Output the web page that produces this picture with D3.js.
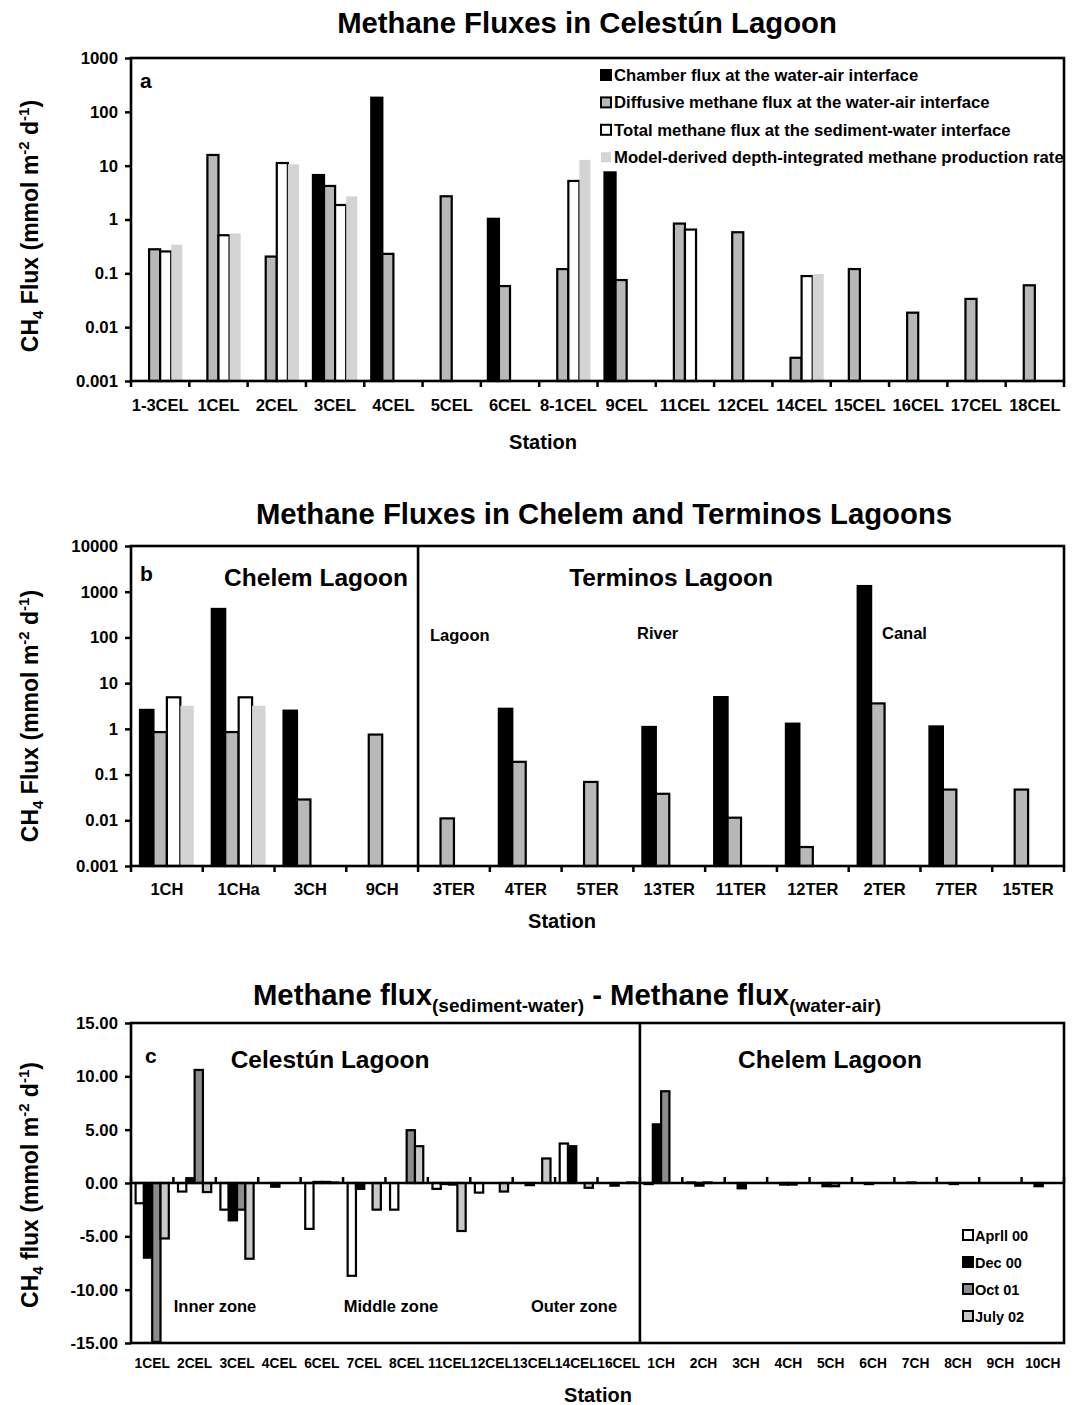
<!DOCTYPE html>
<html><head><meta charset="utf-8">
<script src="https://cdn.jsdelivr.net/npm/d3@7"></script>
<style>
body{margin:0;background:#fff;}
svg{display:block;font-family:"Liberation Sans",Arial,sans-serif;font-weight:bold;}
</style></head><body>
<svg id="chart" width="1079" height="1405"></svg>
<script>
// ---------- Panel a data ----------
const stationsA = ["1-3CEL","1CEL","2CEL","3CEL","4CEL","5CEL","6CEL","8-1CEL","9CEL","11CEL","12CEL","14CEL","15CEL","16CEL","17CEL","18CEL"];
const chamberA   = [null, null, null, 6.7, 183, null, 1.03, null, 7.5, null, null, null, null, null, null, null];
const diffusiveA = [0.28, 15.8, 0.205, 4.2, 0.23, 2.7, 0.058, 0.12, 0.075, 0.84, 0.58, 0.0027, 0.12, 0.0186, 0.0335, 0.06];
const sedimentA  = [0.255, 0.51, 11.2, 1.86, null, null, null, 5.2, null, 0.65, null, 0.089, null, null, null, null];
const modelA     = [0.34, 0.55, 10.6, 2.7, null, null, null, 12.8, null, null, null, 0.097, null, null, null, null];
const logTicksA = [0.001, 0.01, 0.1, 1, 10, 100, 1000];
const logLabelsA = ["0.001","0.01","0.1","1","10","100","1000"];

// ---------- Panel b data ----------
const stationsB = ["1CH","1CHa","3CH","9CH","3TER","4TER","5TER","13TER","11TER","12TER","2TER","7TER","15TER"];
const chamberB   = [2.6, 420, 2.5, null, null, 2.75, null, 1.1, 4.95, 1.3, 1330, 1.13, null];
const diffusiveB = [0.85, 0.85, 0.0285, 0.75, 0.011, 0.19, 0.069, 0.038, 0.0114, 0.0026, 3.6, 0.047, 0.047];
const sedimentB  = [4.9, 4.9, null, null, null, null, null, null, null, null, null, null, null];
const modelB     = [3.2, 3.2, null, null, null, null, null, null, null, null, null, null, null];
const logTicksB = [0.001, 0.01, 0.1, 1, 10, 100, 1000, 10000];
const logLabelsB = ["0.001","0.01","0.1","1","10","100","1000","10000"];

// ---------- Panel c data ----------
const stationsC = ["1CEL","2CEL","3CEL","4CEL","6CEL","7CEL","8CEL","11CEL","12CEL","13CEL","14CEL","16CEL","1CH","2CH","3CH","4CH","5CH","6CH","7CH","8CH","9CH","10CH"];
const april00 = [-1.9, -0.8, -2.5, 0, -4.3, -8.7, -2.5, -0.55, -0.9, 0, 3.7, 0, -0.1, 0.05, 0, 0, 0, 0, 0, 0, 0, 0];
const dec00   = [-7.0, 0.45, -3.5, -0.35, 0.1, -0.55, 0, -0.1, 0, -0.2, 3.45, -0.25, 5.5, -0.25, -0.5, -0.15, -0.3, -0.1, 0.05, -0.1, 0, -0.3];
const oct01   = [-14.9, 10.6, -2.5, 0, 0.1, 0, 4.95, -0.15, 0, 0, 0, 0, 8.6, 0.05, 0, -0.15, -0.3, 0, 0, 0, 0, 0];
const july02  = [-5.2, -0.85, -7.1, 0, 0.05, -2.5, 3.45, -4.5, -0.8, 2.3, -0.45, 0.05, 0, 0, 0, 0, 0, 0, 0, 0, 0, 0];
const linTicksC = [-15, -10, -5, 0, 5, 10, 15];

const legendA = ["Chamber flux at the water-air interface","Diffusive methane flux at the water-air interface","Total methane flux at the sediment-water interface","Model-derived depth-integrated methane production rate"];
const legendC = ["Aprll 00","Dec 00","Oct 01","July 02"];

// ---------- styles ----------
const stylesAB = [
  {fill:"#000", stroke:"#000"},
  {fill:"#b8b8b8", stroke:"#000"},
  {fill:"#fff", stroke:"#000"},
  {fill:"#d4d4d4", stroke:"none"}
];
const stylesC = [
  {fill:"#fff", stroke:"#000"},
  {fill:"#000", stroke:"#000"},
  {fill:"#8c8c8c", stroke:"#000"},
  {fill:"#c8c8c8", stroke:"#000"}
];

const svg = d3.select("#chart");
const X0 = 131, X1 = 1064;

function yTitle(cx, cy, word){
  const t = svg.append("text").attr("transform",`translate(${cx},${cy}) rotate(-90)`)
    .attr("text-anchor","middle").attr("font-size",23);
  t.append("tspan").text("CH");
  t.append("tspan").attr("font-size",15).attr("dy",5).text("4");
  t.append("tspan").attr("dy",-5).text(" " + word + " (mmol m");
  t.append("tspan").attr("font-size",15).attr("dy",-9).text("-2");
  t.append("tspan").attr("dy",9).text(" d");
  t.append("tspan").attr("font-size",15).attr("dy",-9).text("-1");
  t.append("tspan").attr("dy",9).text(")");
}

function drawLogPanel(cfg){
  const g = svg.append("g");
  const x = d3.scaleBand().domain(cfg.stations).range([X0, X1]);
  const y = d3.scaleLog().domain(cfg.domain).range([cfg.bottom, cfg.top]);
  const step = x.step();
  const inner = d3.scaleBand().domain(d3.range(4)).range([cfg.pad, step - cfg.pad]);
  cfg.series.forEach((vals, si) => {
    const st = stylesAB[si];
    g.append("g").selectAll("rect")
      .data(vals.map((v,i)=>({v, s: cfg.stations[i]})).filter(d => d.v != null))
      .join("rect")
      .attr("x", d => x(d.s) + inner(si))
      .attr("y", d => y(d.v))
      .attr("width", inner.bandwidth())
      .attr("height", d => y(cfg.domain[0]) - y(d.v))
      .attr("fill", st.fill)
      .attr("stroke", st.stroke)
      .attr("stroke-width", 2.2);
  });
  g.append("rect").attr("x",X0).attr("y",cfg.top).attr("width",X1-X0).attr("height",cfg.bottom-cfg.top)
    .attr("fill","none").attr("stroke","#000").attr("stroke-width",2.6);
  const ax = g.append("g").attr("transform",`translate(${X0},0)`)
    .call(d3.axisLeft(y).tickValues(cfg.ticks).tickFormat((d,i)=>cfg.labels[i]).tickSize(6).tickPadding(7));
  ax.select(".domain").remove();
  ax.selectAll("line").attr("stroke","#000").attr("stroke-width",2.5);
  ax.selectAll("text").attr("font-size",cfg.tickFont).attr("font-family","Liberation Sans, Arial, sans-serif").attr("font-weight","bold").attr("fill","#000");
  const bounds = cfg.stations.map(s => x(s)).concat([X1]);
  g.append("g").selectAll("line").data(bounds).join("line")
    .attr("x1",d=>d).attr("x2",d=>d).attr("y1",cfg.bottom).attr("y2",cfg.bottom+6)
    .attr("stroke","#000").attr("stroke-width",2.5);
  g.append("g").selectAll("text").data(cfg.stations).join("text")
    .attr("x", d => x(d) + step/2).attr("y", cfg.labelY)
    .attr("text-anchor","middle").attr("font-size",cfg.xFont).text(d=>d);
  return {x, y, g};
}

// ---------- Panel a ----------
svg.append("text").attr("x",587).attr("y",33).attr("text-anchor","middle").attr("font-size",29.3)
  .text("Methane Fluxes in Celestún Lagoon");
const pA = drawLogPanel({stations: stationsA, series:[chamberA, diffusiveA, sedimentA, modelA],
  domain:[0.001,1000], top:58, bottom:381, pad:7, ticks:logTicksA, labels:logLabelsA,
  labelY:411, xFont:16.5, tickFont:16.8});
svg.append("text").attr("x",140).attr("y",88).attr("font-size",21).text("a");
legendA.forEach((txt,i)=>{
  const yy = 75 + i*27.4;
  const st = stylesAB[i];
  svg.append("rect").attr("x",601).attr("y",yy-5).attr("width",10).attr("height",10)
    .attr("fill",st.fill).attr("stroke",st.stroke).attr("stroke-width",2);
  svg.append("text").attr("x",614).attr("y",yy+6).attr("font-size",16.7).text(txt);
});
svg.append("text").attr("x",543).attr("y",449).attr("text-anchor","middle").attr("font-size",20).text("Station");
yTitle(38, 226, "Flux");

// ---------- Panel b ----------
svg.append("text").attr("x",604).attr("y",524).attr("text-anchor","middle").attr("font-size",29.3)
  .text("Methane Fluxes in Chelem and Terminos Lagoons");
const pB = drawLogPanel({stations: stationsB, series:[chamberB, diffusiveB, sedimentB, modelB],
  domain:[0.001,10000], top:546, bottom:866, pad:9, ticks:logTicksB, labels:logLabelsB,
  labelY:895, xFont:16.5, tickFont:16.8});
const divB = pB.x("3TER");
svg.append("line").attr("x1",divB).attr("x2",divB).attr("y1",546).attr("y2",866).attr("stroke","#000").attr("stroke-width",2.6);
svg.append("text").attr("x",140).attr("y",581).attr("font-size",21).text("b");
svg.append("text").attr("x",316).attr("y",586).attr("text-anchor","middle").attr("font-size",24.5).text("Chelem Lagoon");
svg.append("text").attr("x",671).attr("y",586).attr("text-anchor","middle").attr("font-size",24.5).text("Terminos Lagoon");
svg.append("text").attr("x",430).attr("y",641).attr("font-size",16.5).text("Lagoon");
svg.append("text").attr("x",637).attr("y",639).attr("font-size",16.5).text("River");
svg.append("text").attr("x",882).attr("y",639).attr("font-size",16.5).text("Canal");
svg.append("text").attr("x",562).attr("y",928).attr("text-anchor","middle").attr("font-size",20).text("Station");
yTitle(38, 716, "Flux");

// ---------- Panel c ----------
{
  const t = svg.append("text").attr("x",567).attr("y",1005).attr("text-anchor","middle").attr("font-size",29.3);
  t.append("tspan").text("Methane flux");
  t.append("tspan").attr("font-size",19).attr("dy",7).text("(sediment-water)");
  t.append("tspan").attr("dy",-7).text(" - Methane flux");
  t.append("tspan").attr("font-size",19).attr("dy",7).text("(water-air)");
}
const topC = 1023, botC = 1343;
const xC = d3.scaleBand().domain(stationsC).range([X0, X1]);
const yC = d3.scaleLinear().domain([-15, 15]).range([botC, topC]);
const stepC = xC.step();
const innerC = d3.scaleBand().domain(d3.range(4)).range([4.6, stepC - 4.6]);
const gC = svg.append("g");
[april00, dec00, oct01, july02].forEach((vals, si) => {
  const st = stylesC[si];
  gC.append("g").selectAll("rect")
    .data(vals.map((v,i)=>({v, s: stationsC[i]})).filter(d => d.v !== 0))
    .join("rect")
    .attr("x", d => xC(d.s) + innerC(si))
    .attr("y", d => yC(Math.max(0, d.v)))
    .attr("width", innerC.bandwidth())
    .attr("height", d => Math.abs(yC(d.v) - yC(0)))
    .attr("fill", st.fill).attr("stroke", st.stroke).attr("stroke-width", 2.2);
});
gC.append("line").attr("x1",X0).attr("x2",X1).attr("y1",yC(0)).attr("y2",yC(0)).attr("stroke","#000").attr("stroke-width",2.6);
const boundsC = stationsC.map(s => xC(s)).concat([X1]);
gC.append("g").selectAll("line").data(boundsC).join("line")
  .attr("x1",d=>d).attr("x2",d=>d).attr("y1",yC(0)).attr("y2",yC(0)-6)
  .attr("stroke","#000").attr("stroke-width",2.5);
gC.append("rect").attr("x",X0).attr("y",topC).attr("width",X1-X0).attr("height",botC-topC)
  .attr("fill","none").attr("stroke","#000").attr("stroke-width",2.6);
const divC = xC("1CH");
gC.append("line").attr("x1",divC).attr("x2",divC).attr("y1",topC).attr("y2",botC).attr("stroke","#000").attr("stroke-width",2.6);
const axC = gC.append("g").attr("transform",`translate(${X0},0)`)
  .call(d3.axisLeft(yC).tickValues(linTicksC).tickFormat(d => d.toFixed(2)).tickSize(6).tickPadding(7));
axC.select(".domain").remove();
axC.selectAll("line").attr("stroke","#000").attr("stroke-width",2.5);
axC.selectAll("text").attr("font-size",16.8).attr("font-family","Liberation Sans, Arial, sans-serif").attr("font-weight","bold").attr("fill","#000");
gC.append("g").selectAll("text").data(stationsC).join("text")
  .attr("x", d => xC(d) + stepC/2).attr("y", 1368)
  .attr("text-anchor","middle").attr("font-size",13.8).text(d=>d);
svg.append("text").attr("x",145).attr("y",1063).attr("font-size",21).text("c");
svg.append("text").attr("x",330).attr("y",1068).attr("text-anchor","middle").attr("font-size",24.5).text("Celestún Lagoon");
svg.append("text").attr("x",830).attr("y",1068).attr("text-anchor","middle").attr("font-size",24.5).text("Chelem Lagoon");
svg.append("text").attr("x",215).attr("y",1312).attr("text-anchor","middle").attr("font-size",16.5).text("Inner zone");
svg.append("text").attr("x",391).attr("y",1312).attr("text-anchor","middle").attr("font-size",16.5).text("Middle zone");
svg.append("text").attr("x",574).attr("y",1312).attr("text-anchor","middle").attr("font-size",16.5).text("Outer zone");
legendC.forEach((txt,i)=>{
  const yy = 1235 + i*27;
  const st = stylesC[i];
  svg.append("rect").attr("x",963).attr("y",yy-5).attr("width",10).attr("height",10)
    .attr("fill",st.fill).attr("stroke",st.stroke).attr("stroke-width",2);
  svg.append("text").attr("x",975).attr("y",yy+5.5).attr("font-size",14.5).text(txt);
});
svg.append("text").attr("x",598).attr("y",1402).attr("text-anchor","middle").attr("font-size",20).text("Station");
yTitle(38, 1185, "flux");
</script></body></html>
